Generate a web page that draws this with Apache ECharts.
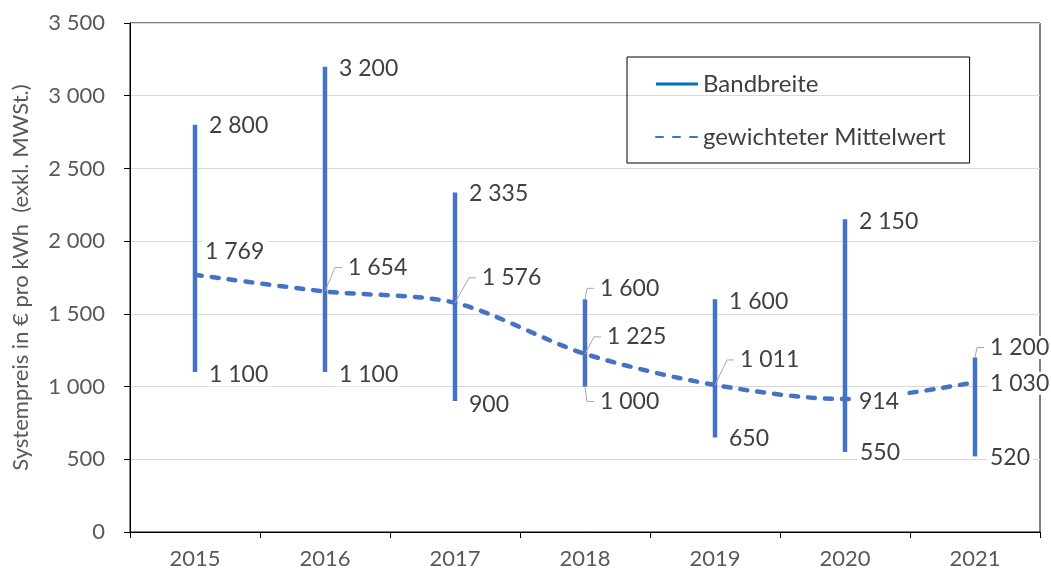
<!DOCTYPE html>
<html>
<head>
<meta charset="utf-8">
<script src="https://cdn.jsdelivr.net/npm/echarts@6/dist/echarts.min.js"></script>
<style>
  html, body { margin: 0; padding: 0; background: #fff; }
  #chart { width: 1051px; height: 577px; }
</style>
</head>
<body>
<div id="chart"></div>
<script>
var years = ['2015', '2016', '2017', '2018', '2019', '2020', '2021'];
var maxValues = [2800, 3200, 2335, 1600, 1600, 2150, 1200];
var minValues = [1100, 1100, 900, 1000, 650, 550, 520];
var meanValues = [1769, 1654, 1576, 1225, 1011, 914, 1030];

// label placement relative to the point: [dx to text left, dy to text middle, leader line?]
var maxLabelPos = [[14, 1, 0], [14, 2, 0], [14, 1, 0], [15, -11, 1], [14, 2, 0], [14, 2, 0], [15, -10, 1]];
var minLabelPos = [[14, 3, 0], [14, 3, 0], [14, 3, 0], [15, 15, 1], [14, 1, 0], [15, 1, 0], [15, 1, 0]];
var meanLabelPos = [[10, -23, 0], [23, -24, 1], [27, -25, 1], [22, -17, 1], [25, -25, 1], [14, 2, 0], [15, 1, 0]];

var FONT = 'Lato';

function fmt(v) {
  return String(v).replace(/\B(?=(\d{3})+(?!\d))/g, ' ');
}

var rows = years.map(function (y, i) {
  return [i, minValues[i], maxValues[i], meanValues[i]];
});

function bandItem(params, api) {
  var lo = api.coord([api.value(0), api.value(1)]);
  var hi = api.coord([api.value(0), api.value(2)]);
  return {
    type: 'line',
    shape: { x1: lo[0], y1: lo[1], x2: hi[0], y2: hi[1] },
    style: { stroke: '#4472C4', lineWidth: 4.5 }
  };
}

function labelItem(params, api) {
  var i = params.dataIndex;
  var children = [];
  var items = [
    [api.value(2), maxLabelPos[i]],
    [api.value(1), minLabelPos[i]],
    [api.value(3), meanLabelPos[i]]
  ];
  items.forEach(function (d) {
    var p = api.coord([api.value(0), d[0]]);
    var tx = p[0] + d[1][0];
    var ty = p[1] + d[1][1];
    if (d[1][2]) {
      children.push({
        type: 'polyline',
        shape: { points: [p, [tx - 13, ty], [tx - 6, ty]] },
        style: { stroke: '#a6a6a6', lineWidth: 1, fill: null }
      });
    }
    children.push({
      type: 'text',
      x: tx - 3,
      y: ty,
      style: {
        text: fmt(d[0]),
        fill: '#404040',
        fontFamily: FONT,
        fontSize: 23,
        align: 'left',
        verticalAlign: 'middle',
        backgroundColor: '#fff',
        padding: [0, 3]
      }
    });
  });
  return { type: 'group', children: children };
}

var chart = echarts.init(document.getElementById('chart'));
chart.setOption({
  animation: false,
  grid: {
    left: 130, right: 11, top: 23, bottom: 45,
    show: true, borderColor: '#000', borderWidth: 1
  },
  legend: {
    orient: 'vertical',
    left: 627,
    top: 57,
    padding: [14, 24, 13, 28],
    borderColor: '#000',
    borderWidth: 1,
    itemWidth: 42,
    itemHeight: 3,
    itemGap: 27,
    textStyle: { fontFamily: FONT, fontSize: 24, color: '#404040', lineHeight: 26 },
    data: [
      { name: 'Bandbreite', icon: 'rect', itemStyle: { color: '#0070C0' } },
      { name: 'gewichteter Mittelwert' }
    ]
  },
  xAxis: {
    type: 'category',
    data: years,
    boundaryGap: true,
    axisLine: { lineStyle: { color: '#000', width: 1 } },
    axisTick: { show: true, length: 6, lineStyle: { color: '#000' } },
    axisLabel: { margin: 16, fontFamily: FONT, fontSize: 22, color: '#595959' }
  },
  yAxis: {
    type: 'value',
    min: 0,
    max: 3500,
    interval: 500,
    name: 'Systempreis in € pro kWh  (exkl. MWSt.)',
    nameLocation: 'middle',
    nameGap: 98,
    nameTextStyle: { fontFamily: FONT, fontSize: 22, color: '#595959' },
    axisLine: { show: true, lineStyle: { color: '#000', width: 1 } },
    axisTick: { show: true, length: 6, lineStyle: { color: '#000' } },
    axisLabel: { margin: 25, fontFamily: FONT, fontSize: 22, color: '#595959', formatter: fmt },
    splitLine: { lineStyle: { color: '#d9d9d9', width: 1 } }
  },
  series: [
    {
      name: 'Bandbreite',
      type: 'custom',
      renderItem: bandItem,
      data: rows,
      encode: { x: 0, y: [1, 2] },
      z: 2
    },
    {
      name: 'gewichteter Mittelwert',
      type: 'line',
      data: meanValues,
      smooth: 0.3,
      symbol: 'none',
      lineStyle: { color: '#4472C4', width: 4.5, type: [7, 10], cap: 'round' },
      itemStyle: { color: '#4472C4' },
      z: 3
    },
    {
      name: 'labels',
      type: 'custom',
      renderItem: labelItem,
      data: rows,
      encode: { x: 0, y: [1, 2, 3] },
      silent: true,
      z: 5
    }
  ]
});
</script>
</body>
</html>
